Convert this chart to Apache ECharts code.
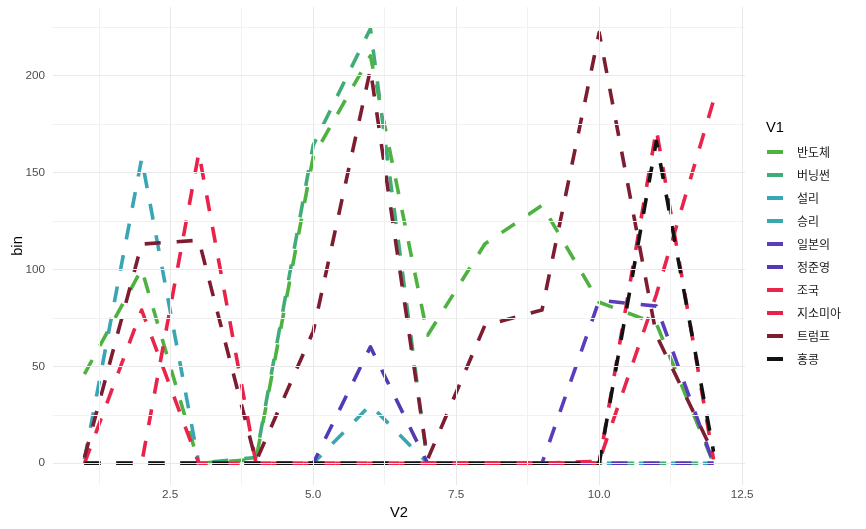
<!DOCTYPE html>
<html>
<head>
<meta charset="utf-8">
<script src="https://cdn.jsdelivr.net/npm/echarts@6/dist/echarts.min.js"></script>
<style>
  html, body { margin: 0; padding: 0; background: #ffffff; }
  #chart { width: 866px; height: 529px; }
</style>
</head>
<body>
<div id="chart"></div>
<script>
// ---- data ----
const xValues = [1, 2, 3, 4, 5, 6, 7, 8, 9, 10, 11, 12];
const seriesNames = ['반도체', '버닝썬', '설리', '승리', '일본의', '정준영', '조국', '지소미아', '트럼프', '홍콩'];
const banDoChe   = [46, 100, 0, 2, 158, 210, 66, 113, 133, 83, 72, 0];
const burningSun = [0, 0, 0, 3, 164, 224, 0, 0, 0, 0, 0, 0];
const sulli      = [2, 157, 0, 0, 0, 0, 0, 0, 0, 0, 0, 0];
const seungri    = [0, 0, 0, 0, 0, 30, 0, 0, 0, 0, 0, 0];
const japan      = [0, 0, 0, 0, 0, 0, 0, 0, 0, 84, 81, 0];
const jungJY     = [0, 0, 0, 0, 0, 60, 0, 0, 0, 0, 0, 0];
const joGuk      = [0, 79, 0, 0, 0, 0, 0, 0, 0, 1, 87, 187];
const gsomia     = [0, 0, 160, 0, 0, 0, 0, 0, 0, 0, 172, 2];
const trump      = [3, 113, 115, 1, 68, 203, 2, 71, 79, 222, 66, 5];
const hongKong   = [0, 0, 0, 0, 0, 0, 0, 0, 0, 0, 166, 6];
const seriesValues = [banDoChe, burningSun, sulli, seungri, japan, jungJY, joGuk, gsomia, trump, hongKong];
const seriesColors = ['#4db23f', '#42ac78', '#38a6b4', '#3aa6ae', '#5a3dbd', '#5339b6', '#e8254b', '#e92249', '#7e1d31', '#121212'];

const xMajor = [2.5, 5.0, 7.5, 10.0, 12.5];
const xMinor = [1.25, 3.75, 6.25, 8.75, 11.25];
const yMajor = [0, 50, 100, 150, 200];
const yMinor = [25, 75, 125, 175, 225];
const xRange = [0.45, 12.55];
const yRange = [-11.2, 235.2];

// ---- chart ----
const chart = echarts.init(document.getElementById('chart'), null, { renderer: 'canvas' });

const lineSeries = seriesNames.map((name, i) => ({
  name: name,
  type: 'line',
  z: 3,
  data: xValues.map((x, j) => [x, seriesValues[i][j]]),
  showSymbol: false,
  symbol: 'none',
  animation: false,
  emphasis: { disabled: true },
  itemStyle: { color: seriesColors[i] },
  lineStyle: { color: seriesColors[i], width: 3.6, type: [16, 16], cap: 'butt', join: 'round' }
}));

const gridSeries = {
  name: 'grid',
  type: 'line',
  z: 1,
  data: [],
  animation: false,
  silent: true,
  markLine: {
    silent: true,
    animation: false,
    symbol: ['none', 'none'],
    label: { show: false },
    emphasis: { disabled: true },
    data: [
      ...xMinor.map(v => ({ xAxis: v, lineStyle: { color: '#f1f1f1', width: 1, type: 'solid' } })),
      ...yMinor.map(v => ({ yAxis: v, lineStyle: { color: '#f1f1f1', width: 1, type: 'solid' } })),
      ...xMajor.map(v => ({ xAxis: v, lineStyle: { color: '#e9e9e9', width: 1, type: 'solid' } })),
      ...yMajor.map(v => ({ yAxis: v, lineStyle: { color: '#e9e9e9', width: 1, type: 'solid' } }))
    ]
  }
};

chart.setOption({
  animation: false,
  backgroundColor: '#ffffff',
  title: {
    text: 'V1',
    left: 766,
    top: 120,
    padding: 0,
    textStyle: { fontSize: 14.7, fontWeight: 'normal', color: '#000000', fontFamily: 'Liberation Sans' }
  },
  grid: { left: 53, right: 121, top: 7, bottom: 44, containLabel: false, outerBoundsMode: 'none' },
  xAxis: {
    type: 'value',
    min: xRange[0],
    max: xRange[1],
    axisLine: { show: false },
    axisTick: { show: false },
    splitLine: { show: false },
    axisLabel: {
      customValues: xMajor,
      formatter: v => v.toFixed(1),
      color: '#4d4d4d',
      fontSize: 11.7,
      fontFamily: 'Liberation Sans',
      margin: 4
    },
    name: 'V2',
    nameLocation: 'middle',
    nameGap: 19,
    nameTextStyle: { fontSize: 14.7, color: '#000000', fontFamily: 'Liberation Sans' }
  },
  yAxis: {
    type: 'value',
    min: yRange[0],
    max: yRange[1],
    axisLine: { show: false },
    axisTick: { show: false },
    splitLine: { show: false },
    axisLabel: {
      customValues: yMajor,
      color: '#4d4d4d',
      fontSize: 11.7,
      fontFamily: 'Liberation Sans',
      margin: 8
    },
    name: 'bin',
    nameLocation: 'middle',
    nameRotate: 90,
    nameGap: 28,
    nameMoveOverlap: false,
    nameTextStyle: { fontSize: 14.7, color: '#000000', fontFamily: 'Liberation Sans' }
  },
  legend: {
    orient: 'vertical',
    left: 767,
    top: 144,
    padding: 0,
    itemWidth: 16,
    itemHeight: 4,
    itemGap: 7,
    icon: 'rect',
    selectedMode: false,
    data: seriesNames,
    textStyle: { fontFamily: 'Noto Sans CJK KR', fontSize: 12, color: '#1a1a1a', lineHeight: 16, padding: [0, 0, 0, 9] }
  },
  series: [gridSeries, ...lineSeries]
});
</script>
</body>
</html>
